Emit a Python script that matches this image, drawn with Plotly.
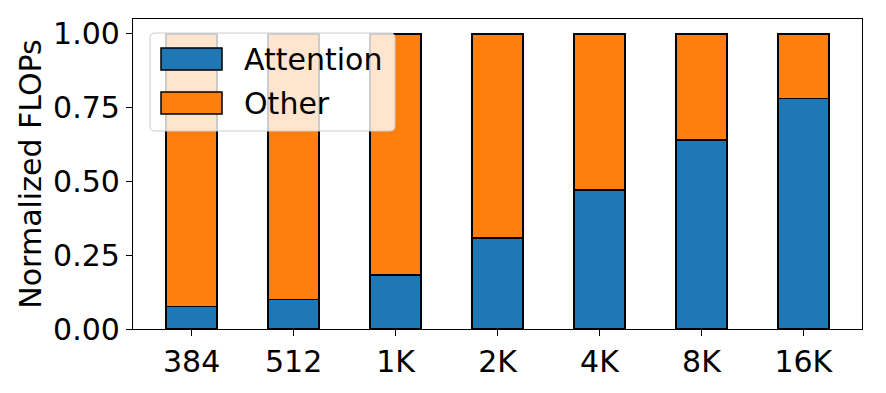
import plotly.graph_objects as go

categories = ["384", "512", "1K", "2K", "4K", "8K", "16K"]
attention = [0.077, 0.100, 0.183, 0.308, 0.471, 0.640, 0.780]
other = [round(1 - a, 3) for a in attention]
series_names = ["Attention", "Other"]
colors = ["#1f77b4", "#ff7f0e"]

W, H = 886, 393
L, R, T, B = 133, 24, 19, 64
pw, ph = W - L - R, H - T - B
FONT = "DejaVu Sans"
FS = 30

def px(x):
    return (x - L) / pw

def py(y):
    return (H - B - y) / ph

xs = list(range(len(categories)))
fig = go.Figure()
for name, vals, col in zip(series_names, [attention, other], colors):
    fig.add_trace(go.Bar(
        x=xs, y=vals, name=name, width=0.5,
        marker=dict(color=col, line=dict(color="black", width=1.5)),
        showlegend=False,
    ))

shapes = []
# legend box (rounded) drawn above the bars
x0, x1, y0, y1 = 150, 395, 33, 131
r = 5
path = (f"M {px(x0 + r)},{py(y0)} L {px(x1 - r)},{py(y0)} Q {px(x1)},{py(y0)} {px(x1)},{py(y0 + r)} "
        f"L {px(x1)},{py(y1 - r)} Q {px(x1)},{py(y1)} {px(x1 - r)},{py(y1)} "
        f"L {px(x0 + r)},{py(y1)} Q {px(x0)},{py(y1)} {px(x0)},{py(y1 - r)} "
        f"L {px(x0)},{py(y0 + r)} Q {px(x0)},{py(y0)} {px(x0 + r)},{py(y0)} Z")
shapes.append(dict(type="path", xref="paper", yref="paper", path=path,
                   fillcolor="rgba(255,255,255,0.8)", line=dict(color="#cccccc", width=1),
                   layer="above"))
annotations = []
rows = [(48, 70), (92, 114)]
for (ya, yb), name, col in zip(rows, series_names, colors):
    shapes.append(dict(type="rect", xref="paper", yref="paper",
                       x0=px(161), x1=px(222), y0=py(yb), y1=py(ya),
                       fillcolor=col, line=dict(color="black", width=1.5), layer="above"))
    annotations.append(dict(xref="paper", yref="paper", x=px(242), y=py((ya + yb) / 2),
                            text=name, showarrow=False, xanchor="left", yanchor="middle",
                            font=dict(family=FONT, size=FS, color="black")))

fig.update_layout(
    barmode="stack",
    width=W, height=H,
    margin=dict(l=L, r=R, t=T, b=B),
    paper_bgcolor="white", plot_bgcolor="white",
    font=dict(family=FONT, size=FS, color="black"),
    shapes=shapes, annotations=annotations,
    showlegend=False,
)
fig.update_xaxes(
    range=[-0.575, 6.575], tickmode="array", tickvals=xs, ticktext=categories,
    showline=True, linecolor="black", linewidth=1.3, mirror=True,
    ticks="outside", ticklen=6, tickwidth=1.3, tickcolor="black",
    showgrid=False, zeroline=False, tickfont=dict(family=FONT, size=FS),
    automargin=False,
)
fig.update_yaxes(
    range=[0, 1.05], tickmode="array", tickvals=[0, 0.25, 0.5, 0.75, 1.0],
    ticktext=["0.00", "0.25", "0.50", "0.75", "1.00"],
    showline=True, linecolor="black", linewidth=1.3, mirror=True,
    ticks="outside", ticklen=6, tickwidth=1.3, tickcolor="black",
    showgrid=False, zeroline=False, tickfont=dict(family=FONT, size=FS),
    title=dict(text="Normalized FLOPs", font=dict(family=FONT, size=FS), standoff=2),
    automargin=False,
)
fig.write_html("out.html", config={"displayModeBar": False},
               post_script="document.body.style.margin='0';")
